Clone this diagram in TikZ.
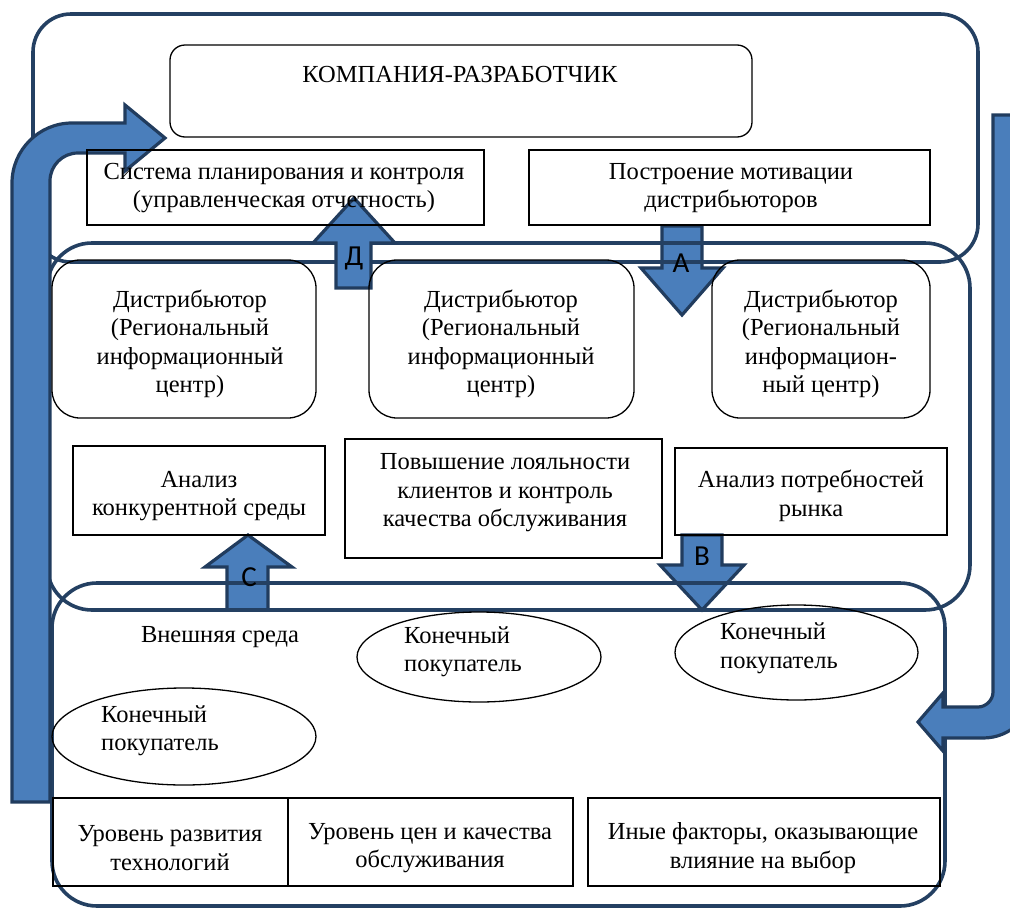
\documentclass[tikz,border=0pt]{standalone}
\usepackage{fontspec}
\setmainfont{Liberation Serif}
\newfontfamily\lettfont{Carlito}
\usetikzlibrary{shapes.geometric}
\definecolor{frameblue}{RGB}{36,64,98}
\definecolor{arrowfill}{RGB}{74,126,187}
\definecolor{arrowline}{RGB}{33,60,94}
\begin{document}
\begin{tikzpicture}[x=1pt,y=-1pt,
  frame/.style={draw=frameblue,line width=3.6pt},
  box/.style={draw=black,line width=1.3pt,inner sep=0pt,outer sep=0pt},
  rbox/.style={box,rounded corners=28pt},
  oval/.style={draw=black,line width=1.3pt,ellipse,inner sep=0pt},
  txt/.style={font=\fontsize{24.5}{28.5}\selectfont,align=center,inner sep=0pt},
  ltxt/.style={txt,align=left,anchor=west},
  bigarrow/.style={fill=arrowfill,draw=arrowline,line width=3.2pt,line join=miter},
  lett/.style={font=\lettfont\fontsize{29}{30}\selectfont,inner sep=0pt}]
\useasboundingbox (0,0) rectangle (1010,908);
\clip (0,0) rectangle (1010,908);
% arrows under the frames
\draw[bigarrow] (662,226) -- (662,268) -- (641,268) -- (682,315) -- (723,268) -- (702,268) -- (702,226) -- cycle;
\draw[bigarrow] (227,610) -- (227,567) -- (205,567) -- (248,535) -- (292,567) -- (268,567) -- (268,610) -- cycle;
\draw[bigarrow] (682,535) -- (682,565) -- (660,565) -- (702,610) -- (744,565) -- (722,565) -- (722,535) -- cycle;
% frames
\draw[frame,rounded corners=38pt] (33,14) rectangle (978,262);
\draw[frame,rounded corners=45pt] (47,243) rectangle (970,610);
\draw[frame,rounded corners=45pt] (52,583) rectangle (945,906);
% big bent arrows
\draw[bigarrow] (12,802) -- (12,183) .. controls (12,150) and (39,123) .. (72,123) -- (125,123) -- (125,105) -- (165,138) -- (125,171) -- (125,153) -- (78,153) .. controls (62.5,153) and (50,165.5) .. (50,181) -- (50,802) -- cycle;
\draw[bigarrow] (993,115) -- (993,692) .. controls (993,700) and (986,707) .. (978,707) -- (943,707) -- (943,693) -- (918,722) -- (943,751) -- (943,738) -- (983,738) .. controls (1011,738) and (1033,716) .. (1033,688) -- (1033,115) -- cycle;
\draw[bigarrow] (336,288) -- (336,243) -- (313,243) -- (354,198) -- (395,243) -- (371,243) -- (371,288) -- cycle;
% letters
\node[lett] (lA) at (681,263) {А};
\node[lett] (lD) at (354,258) {Д};
\node[lett] (lC) at (249,577) {С};
\node[lett] (lB) at (702,556) {В};
% boxes
\node[box,rounded corners=15pt,minimum width=582pt,minimum height=92pt] (company) at (461,91) {};
\node[txt] (companyt) at (460,74) {КОМПАНИЯ-РАЗРАБОТЧИК};
\node[box,minimum width=397pt,minimum height=75pt] (plan) at (285.5,187.5) {};
\node[txt] (plant) at (284,188) {Система планирования и контроля\\(управленческая отчетность)};
\node[box,minimum width=401pt,minimum height=75pt] (motiv) at (729.5,187.5) {};
\node[txt] (motivt) at (731,188) {Построение мотивации\\дистрибьюторов};
\node[rbox,minimum width=264pt,minimum height=158pt] (d1) at (184,339) {};
\node[txt] (d1t) at (190,344) {Дистрибьютор\\(Региональный\\информационный\\центр)};
\node[rbox,minimum width=265pt,minimum height=158pt] (d2) at (501.5,339) {};
\node[txt] (d2t) at (501,344) {Дистрибьютор\\(Региональный\\информационный\\центр)};
\node[rbox,minimum width=218pt,minimum height=158pt] (d3) at (821,339) {};
\node[txt] (d3t) at (821,344) {Дистрибьютор\\(Региональный\\информацион-\\ный центр)};
\node[box,minimum width=252pt,minimum height=89pt] (comp) at (199,490.5) {};
\node[txt] (compt) at (199,496) {Анализ\\конкурентной среды};
\node[box,minimum width=317pt,minimum height=119pt] (loyal) at (503.5,498.5) {};
\node[txt] (loyalt) at (505,493) {Повышение лояльности\\клиентов и контроль\\качества обслуживания};
\node[box,minimum width=272pt,minimum height=87pt] (needs) at (811,491.5) {};
\node[txt] (needst) at (811,496) {Анализ потребностей\\рынка};
\node[txt] (env) at (220,637) {Внешняя среда};
\node[oval,minimum width=244pt,minimum height=90pt] (e1) at (479,657) {};
\node[ltxt] (e1t) at (404,651.5) {Конечный\\покупатель};
\node[oval,minimum width=243pt,minimum height=95pt] (e2) at (796.5,652.5) {};
\node[ltxt] (e2t) at (720,648.5) {Конечный\\покупатель};
\node[oval,minimum width=264pt,minimum height=97pt] (e3) at (184,736.5) {};
\node[ltxt] (e3t) at (101,730.5) {Конечный\\покупатель};
\node[box,minimum width=235pt,minimum height=88pt] (tech) at (170.5,842) {};
\node[txt] (techt) at (170,848) {Уровень развития\\технологий};
\node[box,minimum width=285pt,minimum height=88pt] (price) at (430.5,842) {};
\node[txt] (pricet) at (430,848) {Уровень цен и качества\\обслуживания};
\node[box,minimum width=352pt,minimum height=88pt] (other) at (764,842) {};
\node[txt] (othert) at (763,848) {Иные факторы, оказывающие\\влияние на выбор};
\end{tikzpicture}
\end{document}
